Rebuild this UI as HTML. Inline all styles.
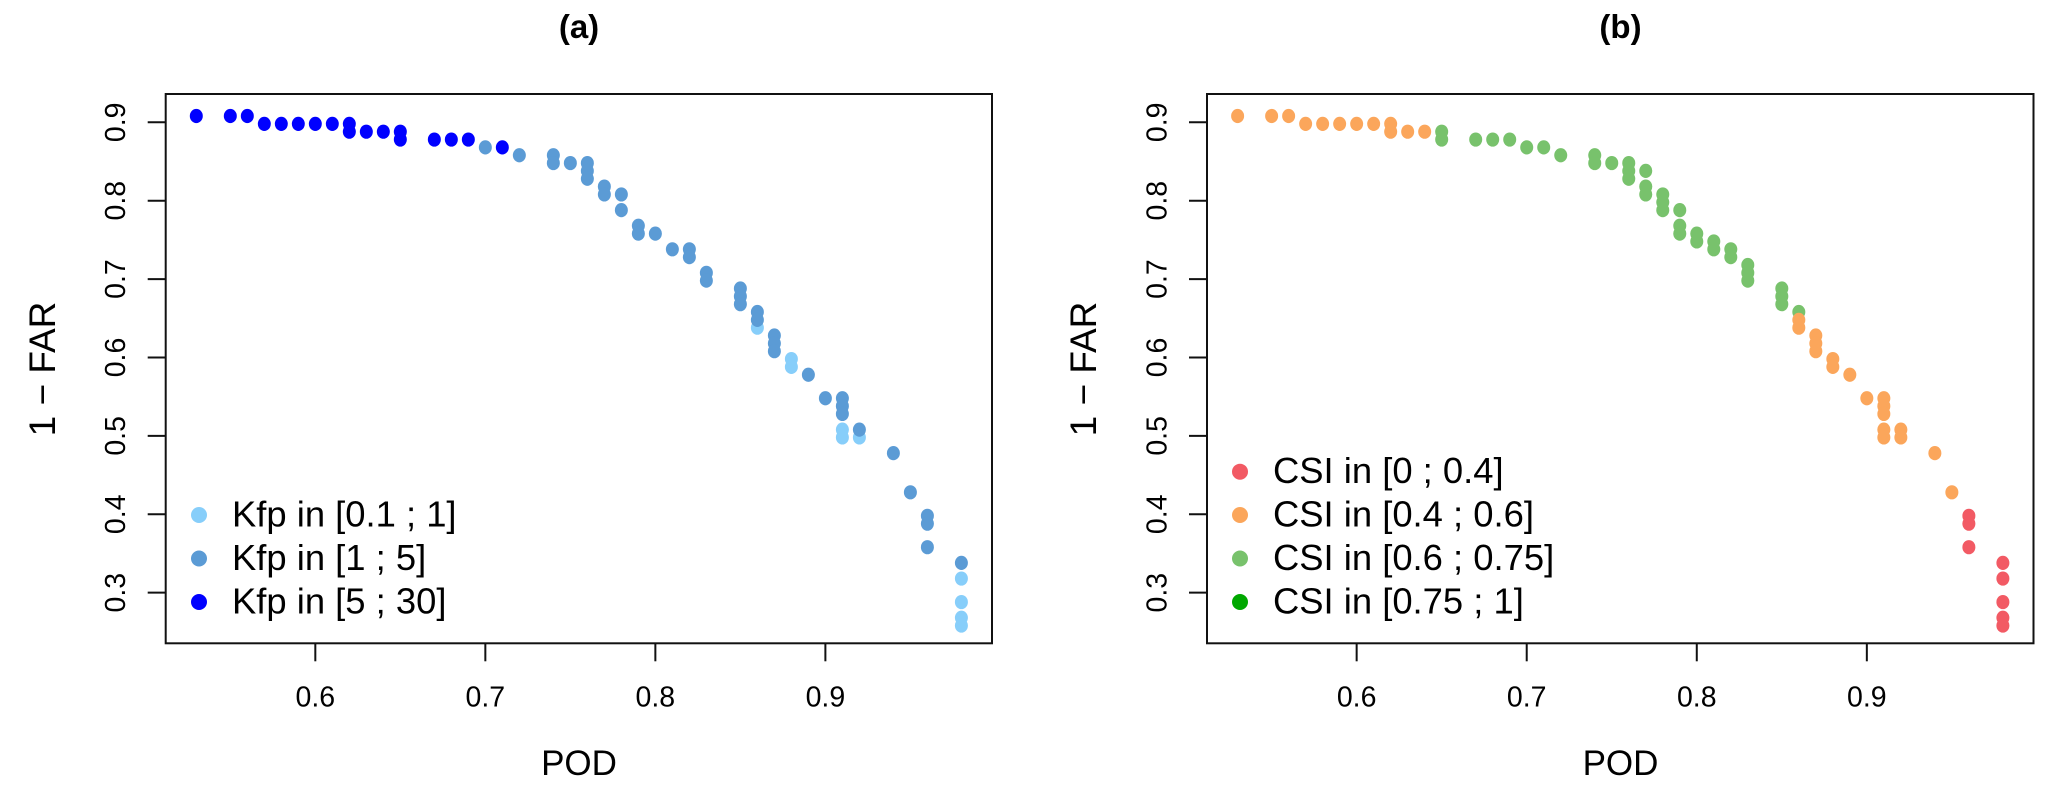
<!DOCTYPE html>
<html lang="en">
<head>
<meta charset="utf-8">
<title>POD vs 1 - FAR scatter panels</title>
<style>
html,body{margin:0;padding:0;background:#fff;width:2067px;height:787px;overflow:hidden}
svg{display:block}
text{font-family:"Liberation Sans",Arial,sans-serif;fill:#000}
.tick{font-size:28.5px}
.leg{font-size:36.4px}
.axt{font-size:35px}
.axy{font-size:37px}
.ttl{font-size:33px;font-weight:bold}
</style>
</head>
<body>
<svg id="fig" xmlns="http://www.w3.org/2000/svg" width="2067" height="787" viewBox="0 0 2067 787">
  <rect width="2067" height="787" fill="#fff"/>
  <g id="panel-a">
    <text class="ttl" x="579" y="38" text-anchor="middle">(a)</text>
    <text class="axt" x="579" y="775" text-anchor="middle">POD</text>
    <text class="axy" transform="translate(55,369) rotate(-90)" text-anchor="middle">1 − FAR</text>
    <g>
      <circle cx="199" cy="515" r="8" fill="#87CEFA"/>
      <text class="leg" x="232" y="526.5">Kfp in [0.1 ; 1]</text>
      <circle cx="199" cy="558.5" r="8" fill="#5B9BD5"/>
      <text class="leg" x="232" y="570">Kfp in [1 ; 5]</text>
      <circle cx="199" cy="602" r="8" fill="#0000FF"/>
      <text class="leg" x="232" y="613.5">Kfp in [5 ; 30]</text>
    </g>
  </g>
  <g id="panel-b">
    <text class="ttl" x="1620.5" y="38" text-anchor="middle">(b)</text>
    <text class="axt" x="1620.5" y="775" text-anchor="middle">POD</text>
    <text class="axy" transform="translate(1096,369) rotate(-90)" text-anchor="middle">1 − FAR</text>
    <g>
      <circle cx="1240" cy="471.7" r="8" fill="#F25A64"/>
      <text class="leg" x="1273" y="483">CSI in [0 ; 0.4]</text>
      <circle cx="1240" cy="515" r="8" fill="#FBA65B"/>
      <text class="leg" x="1273" y="526.5">CSI in [0.4 ; 0.6]</text>
      <circle cx="1240" cy="558.5" r="8" fill="#78C26C"/>
      <text class="leg" x="1273" y="570">CSI in [0.6 ; 0.75]</text>
      <circle cx="1240" cy="602" r="8" fill="#00A800"/>
      <text class="leg" x="1273" y="613.5">CSI in [0.75 ; 1]</text>
    </g>
  </g>
</svg>
<script>
const xTicks = [0.6, 0.7, 0.8, 0.9];
const xTickLabels = ["0.6", "0.7", "0.8", "0.9"];
const yTicks = [0.3, 0.4, 0.5, 0.6, 0.7, 0.8, 0.9];
const yTickLabels = ["0.3", "0.4", "0.5", "0.6", "0.7", "0.8", "0.9"];

const kfpLowPod = [0.86,0.88,0.88,0.91,0.91,0.92,0.98,0.98,0.98,0.98];
const kfpLowFar = [0.638,0.598,0.588,0.508,0.498,0.498,0.318,0.288,0.268,0.258];

const kfpMidPod = [0.70,0.72,0.74,0.74,0.75,0.76,0.76,0.76,0.77,0.77,0.78,0.78,0.79,0.79,0.80,0.81,0.82,0.82,0.83,0.83,0.85,0.85,0.85,0.86,0.86,0.87,0.87,0.87,0.89,0.90,0.91,0.91,0.91,0.92,0.94,0.95,0.96,0.96,0.96,0.98];
const kfpMidFar = [0.868,0.858,0.858,0.848,0.848,0.848,0.838,0.828,0.818,0.808,0.808,0.788,0.768,0.758,0.758,0.738,0.738,0.728,0.708,0.698,0.688,0.678,0.668,0.658,0.648,0.628,0.618,0.608,0.578,0.548,0.548,0.538,0.528,0.508,0.478,0.428,0.398,0.388,0.358,0.338];

const kfpHighPod = [0.53,0.55,0.56,0.57,0.58,0.59,0.60,0.61,0.62,0.62,0.63,0.64,0.65,0.65,0.67,0.68,0.69,0.71];
const kfpHighFar = [0.908,0.908,0.908,0.898,0.898,0.898,0.898,0.898,0.898,0.888,0.888,0.888,0.888,0.878,0.878,0.878,0.878,0.868];

const csiGoodPod = [0.65,0.65,0.67,0.68,0.69,0.70,0.71,0.72,0.74,0.74,0.75,0.76,0.76,0.76,0.77,0.77,0.77,0.78,0.78,0.78,0.79,0.79,0.79,0.80,0.80,0.81,0.81,0.82,0.82,0.83,0.83,0.83,0.85,0.85,0.85,0.86];
const csiGoodFar = [0.888,0.878,0.878,0.878,0.878,0.868,0.868,0.858,0.858,0.848,0.848,0.848,0.838,0.828,0.838,0.818,0.808,0.808,0.798,0.788,0.788,0.768,0.758,0.758,0.748,0.748,0.738,0.738,0.728,0.718,0.708,0.698,0.688,0.678,0.668,0.658];

const csiMidPod = [0.53,0.55,0.56,0.57,0.58,0.59,0.60,0.61,0.62,0.62,0.63,0.64,0.86,0.86,0.87,0.87,0.87,0.88,0.88,0.89,0.90,0.91,0.91,0.91,0.91,0.91,0.92,0.92,0.94,0.95];
const csiMidFar = [0.908,0.908,0.908,0.898,0.898,0.898,0.898,0.898,0.898,0.888,0.888,0.888,0.648,0.638,0.628,0.618,0.608,0.598,0.588,0.578,0.548,0.548,0.538,0.528,0.508,0.498,0.508,0.498,0.478,0.428];

const csiLowPod = [0.96,0.96,0.96,0.98,0.98,0.98,0.98,0.98];
const csiLowFar = [0.398,0.388,0.358,0.338,0.318,0.288,0.268,0.258];

const xDomain = [0.512, 0.998];
const yDomain = [0.2354, 0.9361];
const NS = 'http://www.w3.org/2000/svg';

function make(tag, attrs, parent) {
  const el = document.createElementNS(NS, tag);
  for (const k in attrs) el.setAttribute(k, attrs[k]);
  parent.appendChild(el);
  return el;
}

function drawPanel(parent, left, right, top, bottom, seriesList) {
  const xScale = v => left + (v - xDomain[0]) / (xDomain[1] - xDomain[0]) * (right - left);
  const yScale = v => bottom - (v - yDomain[0]) / (yDomain[1] - yDomain[0]) * (bottom - top);

  const box = make('rect', {x: left, y: top, width: right - left, height: bottom - top, fill: 'none', stroke: '#111', 'stroke-width': 2}, parent);
  
  

  xTicks.forEach((t, i) => {
    const mark = make('line', {x1: xScale(t), x2: xScale(t), y1: bottom, y2: bottom + 18, stroke: '#111', 'stroke-width': 2}, parent);
    
    
    const label = make('text', {class: 'tick', x: xScale(t), y: 706.5, 'text-anchor': 'middle'}, parent);
    label.textContent = xTickLabels[i];
    
    
  });

  yTicks.forEach((t, i) => {
    const mark = make('line', {x1: left - 18, x2: left, y1: yScale(t), y2: yScale(t), stroke: '#111', 'stroke-width': 2}, parent);
    
    
    const label = make('text', {class: 'tick', transform: 'translate(' + (left - 40.7) + ',' + yScale(t) + ') rotate(-90)', 'text-anchor': 'middle'}, parent);
    label.textContent = yTickLabels[i];
    
    
  });

  seriesList.forEach(s => {
    s.pod.forEach((p, i) => {
      const dot = make('ellipse', {cx: xScale(p), cy: yScale(s.far[i]), rx: 6.5, ry: 7.1, fill: s.color}, parent);
      
      
    });
  });
}

drawPanel(document.getElementById('panel-a'), 165.7, 992, 94, 643.3, [
  {name: 'kfp-low', color: '#87CEFA', pod: kfpLowPod, far: kfpLowFar},
  {name: 'kfp-mid', color: '#5B9BD5', pod: kfpMidPod, far: kfpMidFar},
  {name: 'kfp-high', color: '#0000FF', pod: kfpHighPod, far: kfpHighFar}
]);
drawPanel(document.getElementById('panel-b'), 1207, 2033.5, 94, 643.3, [
  {name: 'csi-good', color: '#78C26C', pod: csiGoodPod, far: csiGoodFar},
  {name: 'csi-mid', color: '#FBA65B', pod: csiMidPod, far: csiMidFar},
  {name: 'csi-low', color: '#F25A64', pod: csiLowPod, far: csiLowFar}
]);
</script>
</body>
</html>
